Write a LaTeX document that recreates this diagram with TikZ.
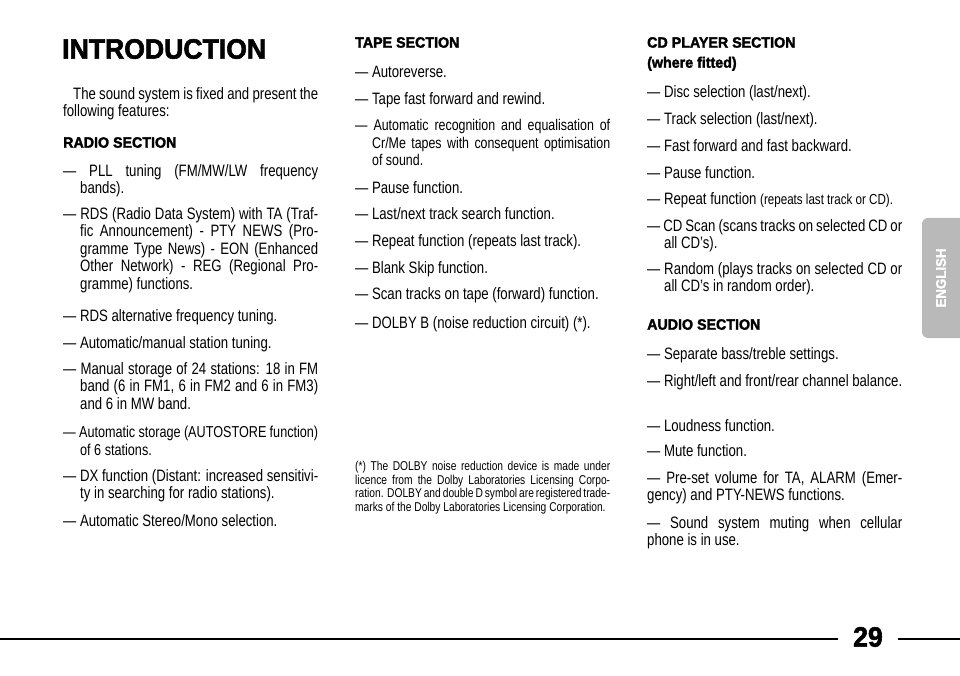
\documentclass[tikz,border=0pt]{standalone}
\usepackage{fontspec}
\setmainfont{Liberation Sans}[FakeStretch=0.8]
\newfontfamily\headfont{Liberation Sans}[FakeStretch=0.95,FakeBold=2]
\tikzset{
  para/.style={anchor=north west, inner sep=0pt, text width=255pt, align=justify,
    font=\fontsize{16.5}{17.6}\selectfont},
  head/.style={anchor=north west, inner sep=0pt, font=\headfont\bfseries\fontsize{15}{20}\selectfont},
  note/.style={anchor=north west, inner sep=0pt, text width=255pt, align=justify,
    font=\fontsize{12.8}{13.7}\selectfont}
}
\newcommand\dashitem[1]{\hangindent=17pt\hangafter=1 --- #1\par}
\begin{document}
\begin{tikzpicture}[x=1pt, y=-1pt]
  \useasboundingbox (0,0) rectangle (960,676);
  % column one
  \node[anchor=west, inner sep=0pt, font=\headfont\bfseries\fontsize{28}{30}\selectfont] (title) at (62,49) {INTRODUCTION};
  \node[para] (intro) at (63,87) {\hspace*{10pt}The sound system is fixed and present the following features:};
  \node[head] (radio) at (63,137) {RADIO SECTION};
  \node[para] (r1) at (63,164) {\dashitem{PLL tuning (FM/MW/LW frequency bands).}};
  \node[para] (r2) at (63,207) {\dashitem{RDS (Radio Data System) with TA (Traf\-fic Announcement) - PTY NEWS (Pro\-gramme Type News) - EON (Enhanced Other Network) - REG (Regional Pro\-gramme) functions.}};
  \node[para] (r3) at (63,309) {\dashitem{RDS alternative frequency tuning.}};
  \node[para] (r4) at (63,336) {\dashitem{Automatic/manual station tuning.}};
  \node[para] (r5) at (63,362) {\dashitem{Manual storage of 24 stations: 18 in FM band (6 in FM1, 6 in FM2 and 6 in FM3) and 6 in MW band.}};
  \node[para, font=\fontsize{15.8}{17.6}\selectfont] (r6) at (63,426) {\dashitem{Automatic storage (AUTOSTORE function) of 6 stations.}};
  \node[para] (r7) at (63,469) {\dashitem{DX function (Distant: increased sensitivi\-ty in searching for radio stations).}};
  \node[para] (r8) at (63,514) {\dashitem{Automatic Stereo/Mono selection.}};
  % column two
  \node[head] (tape) at (355,37) {TAPE SECTION};
  \node[para] (t1) at (355,66) {\dashitem{Autoreverse.}};
  \node[para] (t2) at (355,92) {\dashitem{Tape fast forward and rewind.}};
  \node[para, font=\fontsize{15.5}{17.6}\selectfont] (t3) at (355,119) {\dashitem{Automatic recognition and equalisation of Cr/Me tapes with consequent optimisa\-tion of sound.}};
  \node[para] (t4) at (355,181) {\dashitem{Pause function.}};
  \node[para] (t5) at (355,207) {\dashitem{Last/next track search function.}};
  \node[para] (t6) at (355,234) {\dashitem{Repeat function (repeats last track).}};
  \node[para] (t7) at (355,261) {\dashitem{Blank Skip function.}};
  \node[para] (t8) at (355,287) {\dashitem{Scan tracks on tape (forward) function.}};
  \node[para] (t9) at (355,316) {\dashitem{DOLBY B (noise reduction circuit) (*).}};
  \node[note] (dolby) at (355,461) {(*) The DOLBY noise reduction device is made under licence from the Dolby Laboratories Licensing Corpo\-ration. DOLBY and double D symbol are registered trademarks of the Dolby Laboratories Licensing Cor\-poration.};
  % column three
  \node[head, align=left] (cd) at (647,37) {CD PLAYER SECTION\\(where fitted)};
  \node[para] (c1) at (647,85) {\dashitem{Disc selection (last/next).}};
  \node[para] (c2) at (647,112) {\dashitem{Track selection (last/next).}};
  \node[para] (c3) at (647,139) {\dashitem{Fast forward and fast backward.}};
  \node[para] (c4) at (647,166) {\dashitem{Pause function.}};
  \node[para] (c5) at (647,192) {\dashitem{Repeat function {\fontsize{14.5}{17.6}\selectfont(repeats last track or CD).}}};
  \node[para] (c6) at (647,219) {\dashitem{CD Scan (scans tracks on selected CD or all CD's).}};
  \node[para] (c7) at (647,262) {\dashitem{Random (plays tracks on selected CD or all CD's in random order).}};
  \node[head] (audio) at (647,319) {AUDIO SECTION};
  \node[para] (a1) at (647,347) {--- Separate bass/treble settings.};
  \node[para] (a2) at (647,374) {--- Right/left and front/rear channel bal\-ance.};
  \node[para] (a3) at (647,419) {--- Loudness function.};
  \node[para] (a4) at (647,444) {--- Mute function.};
  \node[para] (a5) at (647,471) {--- Pre-set volume for TA, ALARM (Emer\-gency) and PTY-NEWS functions.};
  \node[para] (a6) at (647,516) {--- Sound system muting when cellular phone is in use.};
  % language tab and page number
  \fill[gray!55, rounded corners=6pt] (922,218) rectangle (975,338);
  \node[rotate=90, text=white, font=\headfont\bfseries\fontsize{14}{14}\selectfont] (lang) at (941,278) {ENGLISH};
  \draw[line width=1.2pt] (0,639) -- (838,639);
  \draw[line width=1.2pt] (898,639) -- (960,639);
  \node[font=\headfont\bfseries\fontsize{28}{28}\selectfont] (page) at (868,637) {29};
\end{tikzpicture}
\end{document}
